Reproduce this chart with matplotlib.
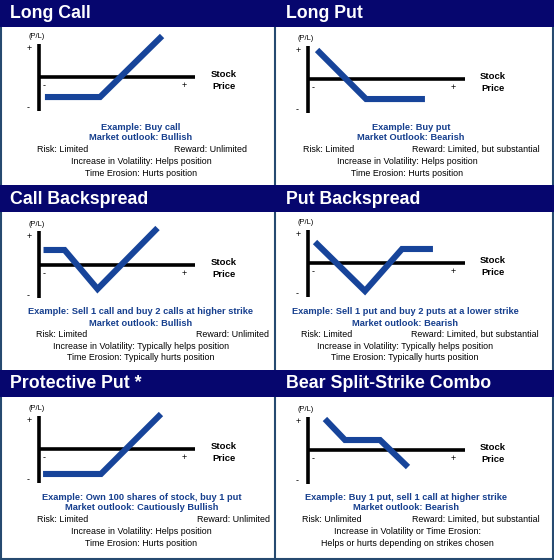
import matplotlib
matplotlib.use("Agg")
import matplotlib.pyplot as plt
from matplotlib.patches import Rectangle

plt.rcParams['font.family'] = ['Liberation Sans', 'DejaVu Sans']

# chart contents
titles = ["Long Call", "Long Put", "Call Backspread",
          "Put Backspread", "Protective Put *", "Bear Split-Strike Combo"]

# payoff diagrams: stock price (0..10 along the axis) vs P/L (-5..5)
payoff_x = [
    [0.41, 3.92, 7.87],
    [0.61, 3.73, 7.48],
    [0.32, 1.66, 3.76, 7.58],
    [0.48, 3.66, 6.02, 7.99],
    [0.29, 3.98, 7.80],
    [1.11, 2.39, 4.62, 6.40],
]
payoff_y = [
    [-2.99, -2.99, 6.12],
    [4.33, -2.99, -2.99],
    [2.24, 2.24, -3.58, 5.52],
    [3.13, -4.18, 2.09, 2.09],
    [-3.73, -3.73, 5.22],
    [4.63, 1.49, 1.49, -2.54],
]

examples = ["Example: Buy call", "Example: Buy put",
            "Example: Sell 1 call and buy 2 calls at higher strike",
            "Example: Sell 1 put and buy 2 puts at a lower strike",
            "Example: Own 100 shares of stock, buy 1 put",
            "Example: Buy 1 put, sell 1 call at higher strike"]
outlooks = ["Market outlook: Bullish", "Market Outlook: Bearish",
            "Market outlook: Bullish", "Market outlook: Bearish",
            "Market outlook: Cautiously Bullish", "Market outlook: Bearish"]
risks = ["Risk: Limited", "Risk: Limited", "Risk: Limited",
         "Risk: Limited", "Risk: Limited", "Risk: Unlimited"]
rewards = ["Reward: Unlimited", "Reward: Limited, but substantial",
           "Reward: Unlimited", "Reward: Limited, but substantial",
           "Reward: Unlimited", "Reward: Limited, but substantial"]
notes1 = ["Increase in Volatility: Helps position",
          "Increase in Volatility: Helps position",
          "Increase in Volatility: Typically helps position",
          "Increase in Volatility: Typically helps position",
          "Increase in Volatility: Helps position",
          "Increase in Volatility or Time Erosion:"]
notes2 = ["Time Erosion: Hurts position", "Time Erosion: Hurts position",
          "Time Erosion: Typically hurts position",
          "Time Erosion: Typically hurts position",
          "Time Erosion: Hurts position",
          "Helps or hurts depending on strikes chosen"]

# layout (pixels)
W, H = 554, 560
col_x = [0, 275]
row_y = [0, 185, 370]
col_w = [275, 279]
header_h = 27
axis_x = [38.5, 30.5]                 # vertical axis inside panel, by column
axis_y = [77, 79, 80, 78, 79, 80]     # horizontal axis inside panel
sx, sy = 15.7, 6.7                    # px per unit
bold_cx = [141, 134, 141, 128, 142, 129]
reg_cx = [141, 130, 141, 128, 141, 130]
risk_x = [37, 26, 36, 24, 37, 25]
reward_x = [247, 263, 269, 262, 270, 263]

navy = "#06066e"
blue_line = "#17449a"
blue_text = "#163f8e"
border = "#264a70"

fig = plt.figure(figsize=(W / 100, H / 100), dpi=100)
bg = fig.add_axes([0, 0, 1, 1])
bg.set_xlim(0, W)
bg.set_ylim(H, 0)
bg.axis('off')

# panel borders
bg.vlines([1, 275, 553], 0, H, color=border, lw=1.5)
bg.hlines(559, 0, W, color=border, lw=1.5)

for i in range(6):
    c, r = i % 2, i // 2
    x0 = col_x[c] + (2 if c == 1 else 0)
    y0 = row_y[r]

    # header bar + title
    bg.add_patch(Rectangle((col_x[c], y0), col_w[c], header_h,
                           color=navy, lw=0, zorder=3))
    bg.text(x0 + 9.5, y0 + header_h / 2 + 0.5, titles[i], color='white',
            fontsize=12.8, fontweight='bold', va='center', ha='left',
            zorder=4)

    # payoff chart
    vx = x0 + axis_x[c]
    hy = y0 + axis_y[i]
    left, right = -1, 11
    bottom, top = -6, 7.5
    ax = fig.add_axes([(vx + left * sx) / W,
                       1 - (hy - bottom * sy) / H,
                       (right - left) * sx / W,
                       (top - bottom) * sy / H])
    ax.set_xlim(left, right)
    ax.set_ylim(bottom, top)
    ax.axis('off')
    ax.vlines(0, -5, 5, color='black', lw=2.6)
    ax.hlines(0, 0, 10, color='black', lw=2.6)
    ax.plot(payoff_x[i], payoff_y[i], color=blue_line, lw=4.4,
            solid_joinstyle='miter', solid_capstyle='butt')

    ax.text(-0.15, 6.0, "(P/L)", fontsize=5.4, ha='center', va='center')
    ax.text(-0.6, 4.2, "+", fontsize=6.5, ha='center', va='center')
    ax.text(-0.68, -4.5, "-", fontsize=6.5, ha='center', va='center')
    ax.text(0.35, -1.3, "-", fontsize=6.5, ha='center', va='center')
    ax.text(9.3, -1.3, "+", fontsize=6.5, ha='center', va='center')
    ax.text(11.8, 0.4, "Stock", fontsize=6.8, fontweight='bold',
            ha='center', va='center')
    ax.text(11.8, -1.45, "Price", fontsize=6.8, fontweight='bold',
            ha='center', va='center')

    # descriptions
    bg.text(x0 + bold_cx[i], y0 + 127, examples[i], color=blue_text,
            fontsize=6.7, fontweight='bold', ha='center', va='center')
    bg.text(x0 + bold_cx[i], y0 + 138, outlooks[i], color=blue_text,
            fontsize=6.7, fontweight='bold', ha='center', va='center')
    bg.text(x0 + risk_x[i], y0 + 149.5, risks[i], fontsize=6.4,
            ha='left', va='center')
    bg.text(x0 + reward_x[i], y0 + 149.5, rewards[i], fontsize=6.4,
            ha='right', va='center')
    bg.text(x0 + reg_cx[i], y0 + 161.5, notes1[i], fontsize=6.4,
            ha='center', va='center')
    bg.text(x0 + reg_cx[i], y0 + 173, notes2[i], fontsize=6.4,
            ha='center', va='center')

fig.savefig("out.png", dpi=100)
